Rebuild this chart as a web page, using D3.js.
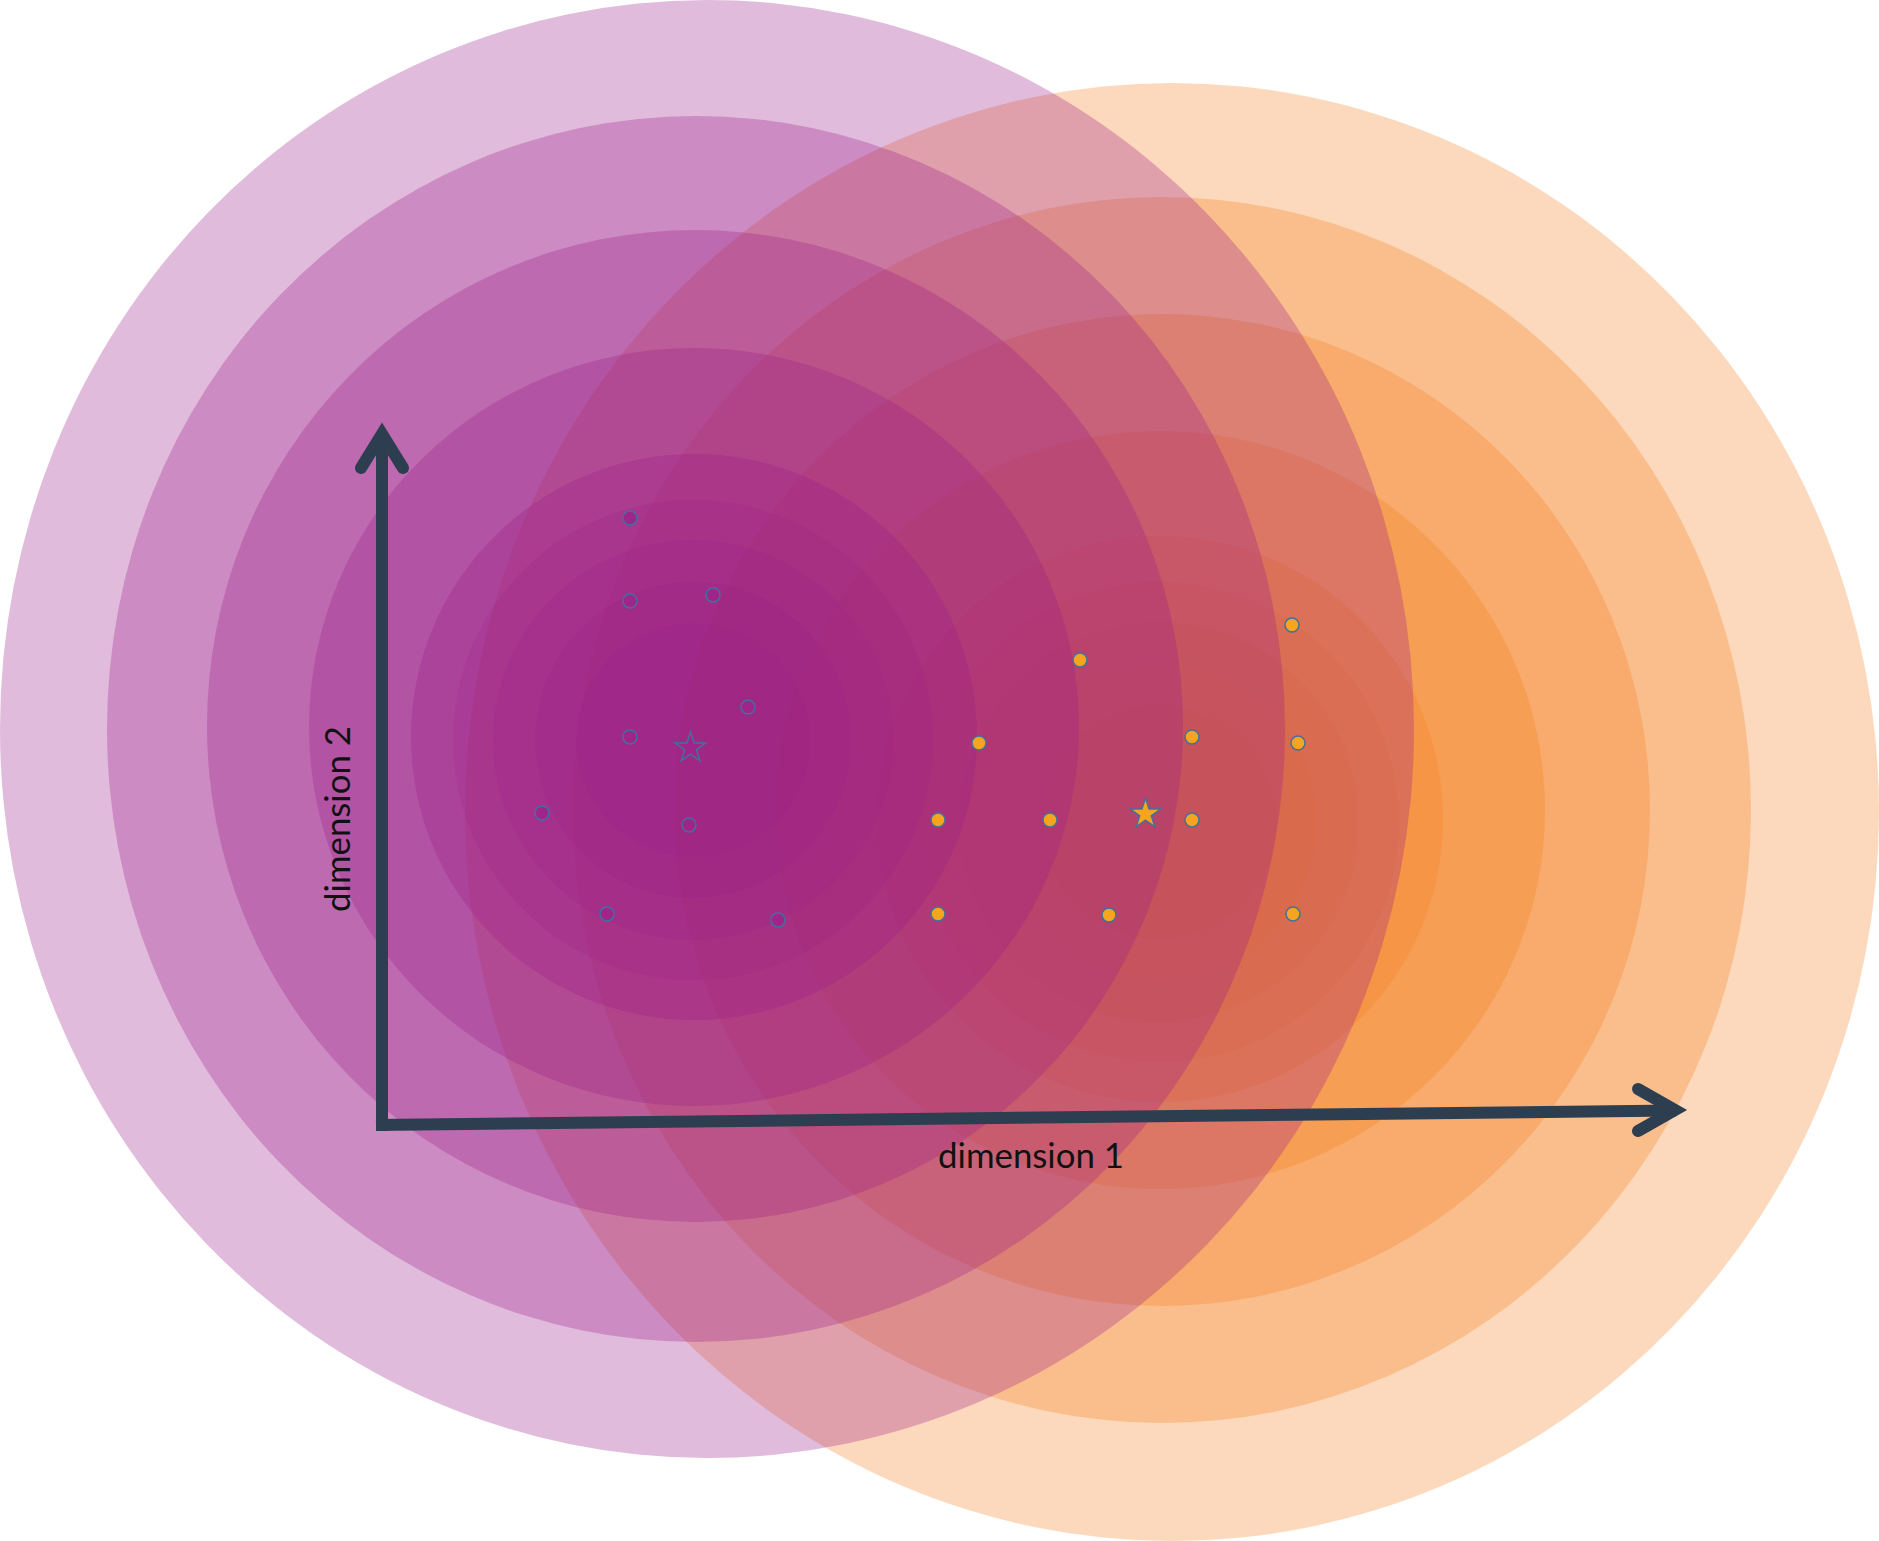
<!DOCTYPE html>
<html><head><meta charset="utf-8">
<script src="https://cdn.jsdelivr.net/npm/d3@7"></script>
<style>html,body{margin:0;padding:0;background:#fff;overflow:hidden}</style>
</head><body><svg id="chart" width="1879" height="1541"></svg>
<script>
// ---- data (units of "dimension 1" / "dimension 2") ----
const ringLevels = ["outer", "ring 2", "ring 3", "ring 4", "ring 5", "inner 1", "inner 2", "inner 3", "inner 4"];
const ringRadiusX = [7.07, 5.89, 4.88, 3.85, 2.83, 2.40, 2.00, 1.58, 1.17];
const ringRadiusY = [7.29, 6.13, 4.96, 3.79, 2.83, 2.40, 2.00, 1.58, 1.17];
const purpleRingCenterX = [3.25, 3.14, 3.13, 3.12, 3.12, 3.11, 3.11, 3.11, 3.11];
const purpleRingCenterY = [3.96, 3.96, 3.99, 3.98, 3.88, 3.85, 3.85, 3.85, 3.85];
const orangeRingCenterX = [7.90, 7.80, 7.80, 7.78, 7.78, 7.77, 7.77, 7.77, 7.77];
const orangeRingCenterY = [3.13, 3.15, 3.15, 3.15, 3.06, 3.03, 3.03, 3.03, 3.03];

const purplePointsX = [2.48, 2.48, 3.31, 3.66, 2.48, 1.60, 3.07, 2.25, 3.96];
const purplePointsY = [6.07, 5.24, 5.30, 4.18, 3.88, 3.12, 3.00, 2.11, 2.05];
const orangePointsX = [9.10, 6.98, 5.97, 8.10, 9.16, 5.56, 6.68, 8.10, 5.56, 7.27, 9.11];
const orangePointsY = [5.00, 4.65, 3.82, 3.88, 3.82, 3.05, 3.05, 3.05, 2.11, 2.10, 2.11];
const purpleStar = [3.085, 3.77];
const orangeStar = [7.635, 3.11];

const axisLabels = ["dimension 1", "dimension 2"];

// ---- scales ----
const W = 1879, H = 1541;
const x = d3.scaleLinear().domain([-3.82, 14.97]).range([0, W]);
const y = d3.scaleLinear().domain([11.25, -4.16]).range([0, H]);
const kx = (W) / (14.97 + 3.82);
const ky = (H) / (11.25 + 4.16);

const svg = d3.select("#chart");
svg.append("rect").attr("width", W).attr("height", H).attr("fill", "#fff");

const purple = "#9C1D87";
const orange = "#F58220";

function rings(cx, cy, color, cls) {
  const data = ringLevels.map((k, i) => ({k, i, cx: cx[i], cy: cy[i], rx: ringRadiusX[i], ry: ringRadiusY[i]}));
  svg.append("g").attr("class", cls).selectAll("ellipse").data(data).join("ellipse")
    .attr("cx", d => x(d.cx)).attr("cy", d => y(d.cy))
    .attr("rx", d => d.rx * kx).attr("ry", d => d.ry * ky)
    .attr("fill", color).attr("fill-opacity", d => d.i < 5 ? 0.3 : 0.17);
}
rings(orangeRingCenterX, orangeRingCenterY, orange, "orange-rings");
rings(purpleRingCenterX, purpleRingCenterY, purple, "purple-rings");

// ---- axes (arrows) ----
const axisColor = "#2D3E50";
const ax = svg.append("g").attr("fill", "none").attr("stroke", axisColor).attr("stroke-width", 12);
const line = d3.line().x(d => x(d[0])).y(d => y(d[1]));
ax.append("path").attr("d", line([[0, -0.06], [0, 6.91]])).attr("stroke-linecap", "butt");
ax.append("path").attr("d", line([[-0.06, 0.0], [12.94, 0.145]])).attr("stroke-linecap", "butt");
ax.append("path").attr("d", line([[-0.21, 6.57], [0, 6.91], [0.21, 6.57]]))
  .attr("stroke-linecap", "round").attr("stroke-linejoin", "miter").attr("stroke-miterlimit", 10);
ax.append("path").attr("d", line([[12.56, 0.36], [12.93, 0.15], [12.56, -0.06]]))
  .attr("stroke-linecap", "round").attr("stroke-linejoin", "miter").attr("stroke-miterlimit", 10);

// ---- labels ----
const fontFam = "Lato, 'Open Sans', sans-serif";
const lab1 = svg.append("text").text(axisLabels[0])
  .attr("x", x(6.49)).attr("y", y(-0.43))
  .attr("text-anchor", "middle").attr("font-family", fontFam).attr("font-size", 34).attr("fill", "#111");
const lab2 = svg.append("text").text(axisLabels[1])
  .attr("transform", `translate(${x(-0.32)},${y(3.06)}) rotate(-90)`)
  .attr("text-anchor", "middle").attr("font-family", fontFam).attr("font-size", 34).attr("fill", "#111");
[lab1, lab2].forEach(t => {
  const len = t.node().getComputedTextLength();
  t.attr("font-size", 34 * 186 / len);
});

// ---- points ----
const ptStroke = "#41719C";
const pts = svg.append("g");
pts.selectAll("circle.p").data(purplePointsX.map((v, i) => [v, purplePointsY[i]])).join("circle")
  .attr("class", "p").attr("cx", d => x(d[0])).attr("cy", d => y(d[1])).attr("r", 7)
  .attr("fill", "#A0248A").attr("stroke", ptStroke).attr("stroke-width", 1.5);
pts.selectAll("circle.o").data(orangePointsX.map((v, i) => [v, orangePointsY[i]])).join("circle")
  .attr("class", "o").attr("cx", d => x(d[0])).attr("cy", d => y(d[1])).attr("r", 7)
  .attr("fill", "#F7A520").attr("stroke", ptStroke).attr("stroke-width", 1.5);

const star = d3.symbol().type(d3.symbolStar).size(285);
pts.append("path").attr("d", star()).attr("transform", `translate(${x(purpleStar[0])},${y(purpleStar[1])})`)
  .attr("fill", "#A0248A").attr("stroke", ptStroke).attr("stroke-width", 1.5);
pts.append("path").attr("d", star()).attr("transform", `translate(${x(orangeStar[0])},${y(orangeStar[1])})`)
  .attr("fill", "#F7A520").attr("stroke", ptStroke).attr("stroke-width", 1.5);
</script>
</body></html>
